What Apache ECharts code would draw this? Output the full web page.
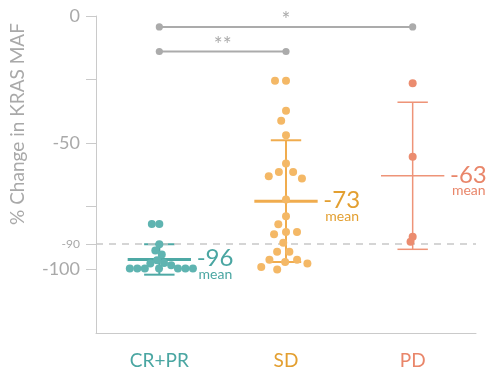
<!DOCTYPE html>
<html><head><meta charset="utf-8">
<script src="https://cdn.jsdelivr.net/npm/echarts@6/dist/echarts.min.js"></script>
<style>html,body{margin:0;padding:0;background:#fff}#c{width:496px;height:371px}</style>
</head><body><div id="c"></div>
<script>
// ---- data ----
const categories = ['CR+PR', 'SD', 'PD'];
const crprValues = [-82, -82, -90, -92.5, -94, -96.3, -97.4, -97.6, -98.3, -99.6, -99.6, -99.6, -99.6, -99.6, -99.6, -99.6];
const sdValues = [-25.5, -25.5, -37.4, -41.3, -47, -58.2, -61.5, -61.5, -63.2, -64.1, -72.4, -79, -82.1, -85.2, -85.2, -86.1, -89.4, -93, -93, -96.1, -96.1, -97, -97.6, -99, -100];
const pdValues = [-26.5, -55.5, -87, -89];
const meanValues = [-96, -73, -63];
const errorValues = [6, 24, 29];
const yTickLabels = [0, -50, -90, -100];
const yTicks = [0, -25, -50, -75, -90, -100];
const referenceLevel = -90;
const bracketFrom = [0, 0];
const bracketTo = [2, 1];
const bracketLevel = [-4.3, -14];
const bracketText = ['*', '**'];

// ---- styling ----
const dotColors = ['#5fb4b1', '#f4b866', '#eb8c6f'];
const lineColors = ['#4ea9a5', '#f0ac4e', '#ee9478'];
const textColors = ['#4aa6a2', '#e39f30', '#e9866a'];
const meanWidths = [3, 3, 1.3];
const errWidths = [2, 2, 1.5];
const swarmGap = [7.5, 11, 5.5];
const FONT = 'Lato, "Open Sans", sans-serif';
const R = 4;

function swarm(pys, D) {
  const order = pys.map((y, i) => i).sort((a, b) => pys[a] - pys[b]);
  const placed = [], off = new Array(pys.length);
  for (const i of order) {
    const y = pys[i];
    const near = placed.filter(p => Math.abs(p.y - y) < D);
    const c = [0];
    near.forEach(p => { const dx = Math.sqrt(D * D - (p.y - y) ** 2); c.push(p.x + dx, p.x - dx); });
    c.sort((a, b) => Math.abs(a) - Math.abs(b) || a - b);
    for (const x of c) {
      if (near.every(p => (p.x - x) ** 2 + (p.y - y) ** 2 >= D * D - 0.01)) { off[i] = x; placed.push({ x, y }); break; }
    }
  }
  return off;
}

function dotSeries(ci, vals) {
  return {
    type: 'custom', coordinateSystem: 'cartesian2d', z: 5,
    data: vals.map(v => [ci, v]),
    encode: { x: 0, y: 1 },
    renderItem(params, api) {
      const pys = vals.map(v => api.coord([ci, v])[1]);
      const offs = swarm(pys, swarmGap[ci]);
      const p = api.coord([ci, vals[params.dataIndex]]);
      return { type: 'circle', shape: { cx: p[0] + offs[params.dataIndex], cy: p[1], r: R }, style: { fill: dotColors[ci] } };
    }
  };
}

const chart = echarts.init(document.getElementById('c'), null, { renderer: 'canvas' });
chart.setOption({
  animation: false,
  grid: { left: 96, right: 20, top: 16, bottom: 38 },
  xAxis: {
    type: 'category', data: categories, boundaryGap: true,
    axisLine: { onZero: false, lineStyle: { color: '#cacaca', width: 1 } },
    axisTick: { alignWithLabel: true, length: 10, lineStyle: { color: '#cacaca' } },
    axisLabel: { fontSize: 19, fontFamily: FONT, margin: 18, color: (v, i) => textColors[i] }
  },
  yAxis: {
    type: 'value', min: -125, max: 0, interval: 25,
    axisLine: { show: true, lineStyle: { color: '#cacaca', width: 1 } },
    axisTick: { show: true, length: 10, lineStyle: { color: '#cacaca' }, customValues: yTicks },
    axisLabel: {
      customValues: yTickLabels, color: '#a9a9a9', fontSize: 18, fontFamily: FONT, margin: 16,
      formatter: v => v === -90 ? '{s|-90}' : String(v),
      rich: { s: { fontSize: 12, color: '#a9a9a9', fontFamily: FONT } }
    },
    splitLine: { show: false }
  },
  graphic: [{
    type: 'text', x: 18, y: 124, rotation: Math.PI / 2,
    style: { text: '% Change in KRAS MAF', fill: '#a9a9a9', fontSize: 19, fontFamily: FONT, align: 'center', verticalAlign: 'middle', textAlign: 'center', textVerticalAlign: 'middle' }
  }],
  series: [
    {
      type: 'custom', coordinateSystem: 'cartesian2d', z: 3,
      data: categories.map((c, i) => [i, meanValues[i], errorValues[i]]),
      encode: { x: 0, y: 1 },
      renderItem(params, api) {
        const i = params.dataIndex;
        const m = meanValues[i], e = errorValues[i];
        const band = api.size([1, 0])[0];
        const pm = api.coord([i, m]), pt = api.coord([i, m + e]), pb = api.coord([i, m - e]);
        const x = pm[0], hw = band * 0.25, cw = band * 0.12;
        const ls = { stroke: lineColors[i], lineWidth: errWidths[i] };
        return {
          type: 'group', children: [
            { type: 'line', shape: { x1: x, y1: pt[1], x2: x, y2: pb[1] }, style: ls },
            { type: 'line', shape: { x1: x - cw, y1: pt[1], x2: x + cw, y2: pt[1] }, style: ls },
            { type: 'line', shape: { x1: x - cw, y1: pb[1], x2: x + cw, y2: pb[1] }, style: ls },
            { type: 'line', shape: { x1: x - hw, y1: pm[1], x2: x + hw, y2: pm[1] }, style: { stroke: lineColors[i], lineWidth: meanWidths[i] } },
            { type: 'text', style: { text: String(m), x: x + band * 0.295, y: pm[1] - 1, fill: textColors[i], fontSize: 24, fontFamily: FONT, align: 'left', verticalAlign: 'middle', textAlign: 'left', textVerticalAlign: 'middle' } },
            { type: 'text', style: { text: 'mean', x: x + band * 0.31, y: pm[1] + 15, fill: textColors[i], fontSize: 14, fontFamily: FONT, align: 'left', verticalAlign: 'middle', textAlign: 'left', textVerticalAlign: 'middle' } }
          ]
        };
      },
      markLine: {
        silent: true, symbol: 'none', label: { show: false },
        lineStyle: { type: [7, 6], color: '#c8c8c8', width: 1.5 },
        data: [{ yAxis: referenceLevel }]
      }
    },
    dotSeries(0, crprValues),
    dotSeries(1, sdValues),
    dotSeries(2, pdValues),
    {
      type: 'custom', coordinateSystem: 'cartesian2d', z: 4,
      data: bracketFrom.map((f, i) => [f, bracketLevel[i], bracketTo[i]]),
      encode: { x: 0, y: 1 },
      renderItem(params, api) {
        const i = params.dataIndex;
        const a = api.coord([bracketFrom[i], bracketLevel[i]]), b = api.coord([bracketTo[i], bracketLevel[i]]);
        const col = '#ababab';
        return {
          type: 'group', children: [
            { type: 'line', shape: { x1: a[0], y1: a[1], x2: b[0], y2: b[1] }, style: { stroke: col, lineWidth: 2 } },
            { type: 'circle', shape: { cx: a[0], cy: a[1], r: 3.6 }, style: { fill: col } },
            { type: 'circle', shape: { cx: b[0], cy: b[1], r: 3.6 }, style: { fill: col } },
            { type: 'text', style: { text: bracketText[i], x: (a[0] + b[0]) / 2, y: a[1] + 4, fill: col, fontSize: 21, fontFamily: FONT, align: 'center', verticalAlign: 'bottom', textAlign: 'center', textVerticalAlign: 'bottom' } }
          ]
        };
      }
    }
  ]
});
</script>
</body></html>
